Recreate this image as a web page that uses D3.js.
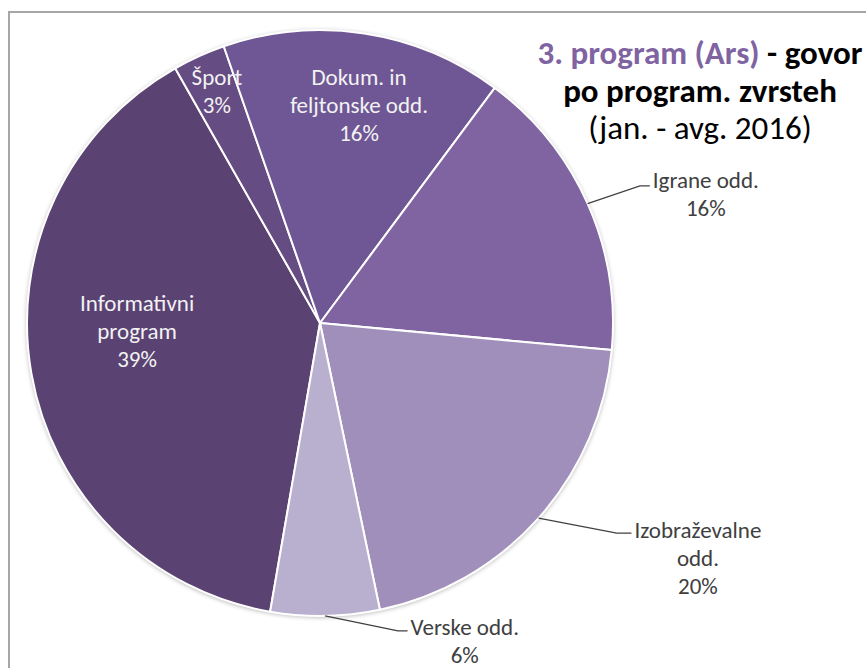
<!DOCTYPE html>
<html><head><meta charset="utf-8">
<script src="https://cdn.jsdelivr.net/npm/d3@7"></script>
<style>body{margin:0;background:#fff}svg{display:block}</style>
</head><body>
<svg id="c" width="866" height="668"></svg>
<script>
// ---- data ----
const categories = ["Informativni program", "Šport", "Dokum. in feljtonske odd.", "Igrane odd.", "Izobraževalne odd.", "Verske odd."];
const labelLines = [["Informativni", "program"], ["Šport"], ["Dokum. in", "feljtonske odd."], ["Igrane odd."], ["Izobraževalne", "odd."], ["Verske odd."]];
const values = [39.05, 2.9, 15.5, 16.3, 20.25, 6.0];
const percentLabels = ["39%", "3%", "16%", "16%", "20%", "6%"];
const titleLine1Purple = "3. program (Ars)";
const titleLine1Black = " - govor";
const titleLine2 = "po program. zvrsteh";
const titleLine3 = "(jan. - avg. 2016)";

// ---- style / layout ----
const colors = ["#5a4272", "#654c83", "#6f5795", "#8064a2", "#a08fba", "#b9afcf"];
const cx = 320, cy = 323, R = 293;
const FONT = "Carlito, Lato, 'Open Sans', sans-serif";
const deg = Math.PI / 180;
const startA = 189.8 * deg;
const labelLayout = [
  {a: 267.2, k: 0.625, inside: true},
  {a: 335.9, k: 0.862, inside: true},
  {a: 10.2, k: 0.753, inside: true},
  {a: 71.7, k: 1.387, inside: false, ea: 66.8, ek: 1.188},
  {a: 122.0, k: 1.521, inside: false, ea: 125.3, ek: 1.241},
  {a: 155.6, k: 1.196, inside: false, ea: 165.8, ek: 1.084}
];
const polar = (a, r) => [cx + r * Math.sin(a * deg), cy - r * Math.cos(a * deg)];

const svg = d3.select("#c");
const defs = svg.append("defs");
const f = defs.append("filter").attr("id", "sh").attr("x", "-10%").attr("y", "-10%").attr("width", "120%").attr("height", "120%");
f.append("feGaussianBlur").attr("in", "SourceAlpha").attr("stdDeviation", 2.5).attr("result", "b");
f.append("feOffset").attr("in", "b").attr("dx", 0).attr("dy", 1).attr("result", "o");
f.append("feComponentTransfer").attr("in", "o").attr("result", "o2")
  .append("feFuncA").attr("type", "linear").attr("slope", 0.35);
const fm = f.append("feMerge");
fm.append("feMergeNode").attr("in", "o2");
fm.append("feMergeNode").attr("in", "SourceGraphic");

svg.append("rect").attr("x", 9).attr("y", 12).attr("width", 900).attr("height", 700)
  .attr("fill", "#fff").attr("stroke", "#a6a6a6").attr("stroke-width", 2);

const pie = d3.pie().sort(null).value(d => d).startAngle(startA).endAngle(startA + 2 * Math.PI);
const arcs = pie(values);
const arc = d3.arc().innerRadius(0).outerRadius(R);

const g = svg.append("g").attr("transform", `translate(${cx},${cy})`);
g.append("circle").attr("r", R).attr("fill", "#fff").attr("filter", "url(#sh)");
g.selectAll("path.slice").data(arcs).join("path")
  .attr("class", "slice")
  .attr("d", arc)
  .attr("fill", (d, i) => colors[i])
  .attr("stroke", "#fff").attr("stroke-width", 2).attr("stroke-linejoin", "round");

// fit label font size so that the label line widths match the reference on average
const probe = svg.append("text").attr("font-family", FONT).attr("font-size", 20);
const refStrings = ["Informativni", "Dokum. in", "feljtonske odd.", "Igrane odd.", "Izobraževalne", "Verske odd."];
const refWidths = [115, 98, 143, 108, 128, 110];
let sumW = 0;
refStrings.forEach(s => { probe.text(s); sumW += probe.node().getComputedTextLength(); });
probe.remove();
const FS = Math.min(23, 20 * d3.sum(refWidths) / sumW);

const LS = 28, dyBase = 7;
arcs.forEach((d, i) => {
  const L = labelLayout[i];
  const [lx, ly] = polar(L.a, L.k * R);
  const lines = labelLines[i].concat([percentLabels[i]]);
  const n = lines.length;
  const y0 = ly - (n - 1) * LS / 2 + dyBase;
  const t = svg.append("text")
    .attr("font-family", FONT).attr("font-size", FS)
    .attr("fill", L.inside ? "#f2f2f2" : "#404040")
    .attr("text-anchor", "middle");
  lines.forEach((s, j) => t.append("tspan").attr("x", lx).attr("y", y0 + j * LS).text(s));
  if (!L.inside) {
    const mid = (d.startAngle + d.endAngle) / 2 / deg;
    const p0 = polar(mid, R);
    const p1 = polar(L.ea, L.ek * R);
    const bb = t.node().getBBox();
    const p2 = [bb.x - 3, p1[1]];
    svg.append("path").attr("d", d3.line()([p0, p1, p2]))
      .attr("fill", "none").attr("stroke", "#404040").attr("stroke-width", 1.3);
  }
});

const tx = 700;
const t1 = svg.append("text").attr("x", tx).attr("y", 64).attr("text-anchor", "middle")
  .attr("font-family", FONT).attr("font-weight", "bold").attr("font-size", 28);
t1.append("tspan").attr("fill", "#8064a2").text(titleLine1Purple);
t1.append("tspan").attr("fill", "#000").text(titleLine1Black);
const w1 = t1.node().getComputedTextLength();
const fs = 28 * 325 / w1;
t1.attr("font-size", fs);
svg.append("text").attr("x", tx).attr("y", 102).attr("text-anchor", "middle")
  .attr("font-family", FONT).attr("font-weight", "bold").attr("font-size", fs).attr("fill", "#000")
  .text(titleLine2);
svg.append("text").attr("x", tx).attr("y", 139).attr("text-anchor", "middle")
  .attr("font-family", FONT).attr("font-size", fs).attr("fill", "#000")
  .text(titleLine3);
</script>
</body></html>
